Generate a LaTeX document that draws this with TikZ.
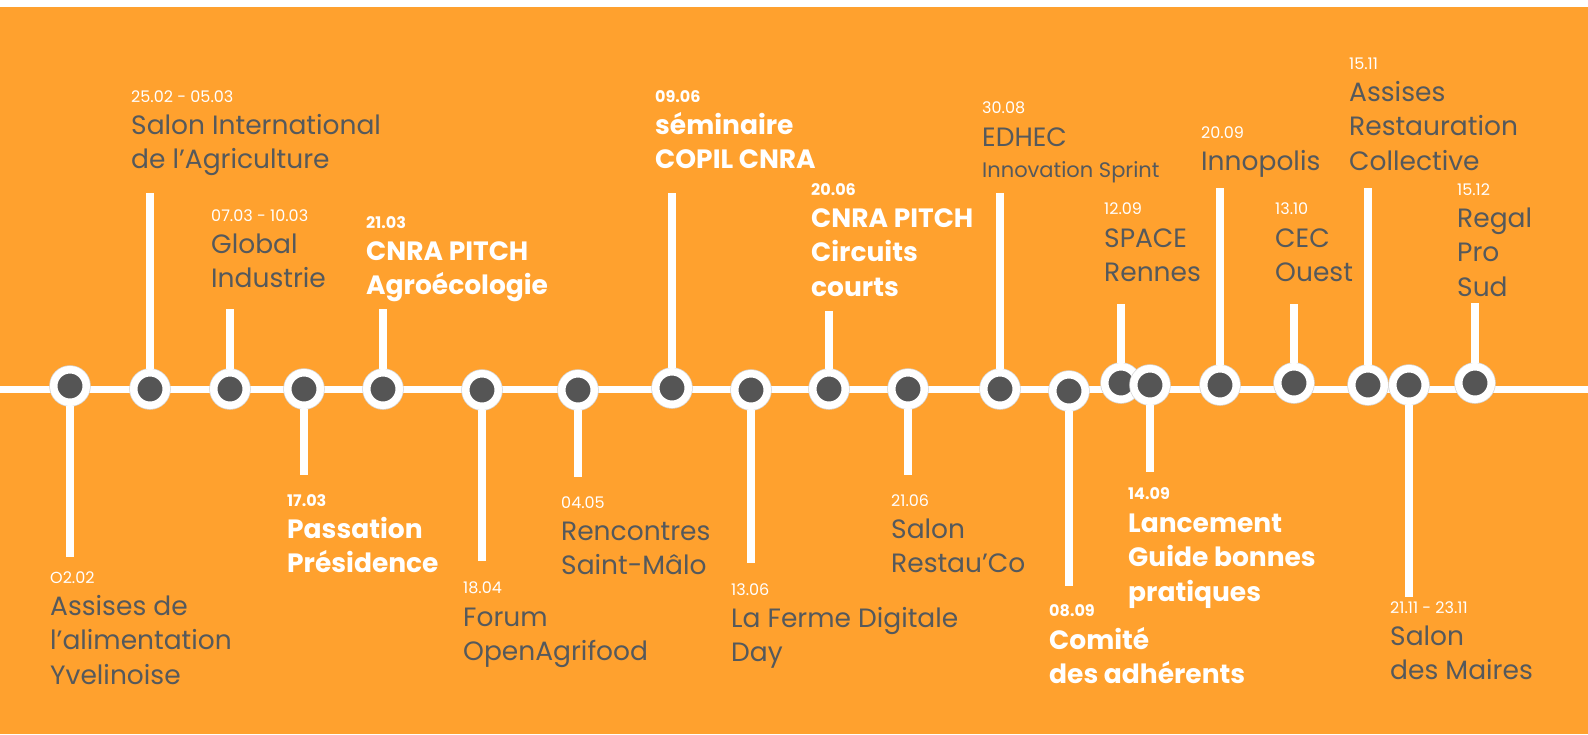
\documentclass[tikz,border=0pt]{standalone}
\usepackage{fontspec}
\setmainfont{Poppins}
\definecolor{bgorange}{HTML}{FFA12E}
\definecolor{dotgrey}{HTML}{555555}
\definecolor{txtgrey}{HTML}{55595C}
\definecolor{rimgrey}{HTML}{D6D6D6}
\newcommand{\evlines}[1]{\begin{tabular}[t]{@{}l@{}}#1\end{tabular}}
\tikzset{
  dot/.style={circle, fill=dotgrey, draw=white, line width=7.5pt, minimum size=32.5pt, inner sep=0pt, preaction={draw=rimgrey, line width=9pt}},
  stem/.style={draw=white, line width=7.5pt},
  datum/.style={anchor=base west, inner sep=0pt, text=white, font=\fontsize{16}{19}\selectfont},
  datumb/.style={datum, font=\fontsize{16}{19}\selectfont\bfseries},
  event/.style={anchor=base west, inner sep=0pt, text=txtgrey, font=\fontsize{26.5}{34.5}\selectfont},
  eventb/.style={event, text=white, font=\fontsize{26.5}{34.5}\selectfont\bfseries},
}
\begin{document}
\begin{tikzpicture}[x=1pt,y=-1pt]
            \useasboundingbox (0,0) rectangle (1588,734);
            \fill[white] (0,0) rectangle (1588,734);
            \fill[bgorange] (0,7) rectangle (1588,734);

            % timeline
            \coordinate (l0) at (0,389);
            \coordinate (l1) at (1588,389);
            \draw[white, line width=7pt] (l0) -- (l1);

            \node[dot] (c1) at (70,386) {};
            \node[dot] (c2) at (150,389) {};
            \node[dot] (c3) at (230,389) {};
            \node[dot] (c4) at (304,389) {};
            \node[dot] (c5) at (383,389) {};
            \node[dot] (c6) at (482,390) {};
            \node[dot] (c7) at (578,390) {};
            \node[dot] (c8) at (672,388) {};
            \node[dot] (c9) at (751,390) {};
            \node[dot] (c10) at (829,389) {};
            \node[dot] (c11) at (908,389) {};
            \node[dot] (c12) at (1000,389) {};
            \node[dot] (c13) at (1069,391) {};
            \node[dot] (c14) at (1121,383) {};
            \node[dot] (c15) at (1150,385) {};
            \node[dot] (c16) at (1220,385) {};
            \node[dot] (c17) at (1294,383) {};
            \node[dot] (c18) at (1368,385) {};
            \node[dot] (c19) at (1409,385) {};
            \node[dot] (c20) at (1475,383) {};

            % stem ends
            \coordinate (s1) at (70,557);
            \coordinate (s2) at (150,193);
            \coordinate (s3) at (230,309);
            \coordinate (s4) at (304,475);
            \coordinate (s5) at (383,309);
            \coordinate (s6) at (482,561);
            \coordinate (s7) at (578,477);
            \coordinate (s8) at (672,193);
            \coordinate (s9) at (751,563);
            \coordinate (s10) at (829,311);
            \coordinate (s11) at (908,475);
            \coordinate (s12) at (1000,193);
            \coordinate (s13) at (1069,586);
            \coordinate (s14) at (1121,304);
            \coordinate (s15) at (1150,472);
            \coordinate (s16) at (1220,188);
            \coordinate (s17) at (1294,304);
            \coordinate (s18) at (1368,188);
            \coordinate (s19) at (1409,597);
            \coordinate (s20) at (1475,303);

            \draw[stem] (c1) -- (s1);
            \draw[stem] (c2) -- (s2);
            \draw[stem] (c3) -- (s3);
            \draw[stem] (c4) -- (s4);
            \draw[stem] (c5) -- (s5);
            \draw[stem] (c6) -- (s6);
            \draw[stem] (c7) -- (s7);
            \draw[stem] (c8) -- (s8);
            \draw[stem] (c9) -- (s9);
            \draw[stem] (c10) -- (s10);
            \draw[stem] (c11) -- (s11);
            \draw[stem] (c12) -- (s12);
            \draw[stem] (c13) -- (s13);
            \draw[stem] (c14) -- (s14);
            \draw[stem] (c15) -- (s15);
            \draw[stem] (c16) -- (s16);
            \draw[stem] (c17) -- (s17);
            \draw[stem] (c18) -- (s18);
            \draw[stem] (c19) -- (s19);
            \draw[stem] (c20) -- (s20);

            % labels
            \node[datum] (d1) at (50,583) {O2.02}; % below
            \node[event] (e1) at (50,615) {\evlines{Assises de\\l’alimentation\\Yvelinoise}};
            \node[datum] (d2) at (131,102) {25.02 - 05.03}; % above
            \node[event] (e2) at (131,134) {\evlines{Salon International\\de l’Agriculture}};
            \node[datum] (d3) at (211,221) {07.03 - 10.03};
            \node[event] (e3) at (211,253) {\evlines{Global\\Industrie}};
            \node[datumb] (d4) at (366,228) {21.03};
            \node[eventb] (e4) at (366,260) {\evlines{CNRA PITCH\\Agroécologie}};
            \node[datumb] (d5) at (287,506) {17.03};
            \node[eventb] (e5) at (287,538) {\evlines{Passation\\Présidence}};
            \node[datum] (d6) at (463,593) {18.04};
            \node[event] (e6) at (463,626) {\evlines{Forum\\OpenAgrifood}};
            \node[datum] (d7) at (561,508) {04.05};
            \node[event] (e7) at (561,540) {\evlines{Rencontres\\Saint-Mâlo}};
            \node[datumb] (d8) at (655,102) {09.06};
            \node[eventb] (e8) at (655,134) {\evlines{séminaire\\COPIL CNRA}};
            \node[datumb] (d9) at (811,195) {20.06};
            \node[eventb] (e9) at (811,227) {\evlines{CNRA PITCH\\Circuits\\courts}};
            \node[datum] (d10) at (731,595) {13.06};
            \node[event] (e10) at (731,627) {\evlines{La Ferme Digitale\\Day}};
            \node[datum] (d11) at (891,506) {21.06};
            \node[event] (e11) at (891,538) {\evlines{Salon\\Restau’Co}};
            \node[datum] (d12) at (982,113) {30.08};
            \node[event] (e12) at (982,146) {EDHEC};
            \node[event, font=\fontsize{21}{28}\selectfont] (e12b) at (982,177) {Innovation Sprint};
            \node[datumb] (d13) at (1049,616) {08.09};
            \node[eventb] (e13) at (1049,649) {\evlines{Comité\\des adhérents}};
            \node[datum] (d14) at (1104,214) {12.09};
            \node[event] (e14) at (1104,247) {\evlines{SPACE\\Rennes}};
            \node[datumb] (d15) at (1128,499) {14.09};
            \node[eventb] (e15) at (1128,532) {\evlines{Lancement\\Guide bonnes\\pratiques}};
            \node[datum] (d16) at (1201,138) {20.09};
            \node[event] (e16) at (1201,170) {Innopolis};
            \node[datum] (d17) at (1275,214) {13.10};
            \node[event] (e17) at (1275,247) {\evlines{CEC\\Ouest}};
            \node[datum] (d18) at (1349,69) {15.11};
            \node[event] (e18) at (1349,101) {\evlines{Assises\\Restauration\\Collective}};
            \node[datum] (d19) at (1457,195) {15.12};
            \node[event] (e19) at (1457,227) {\evlines{Regal\\Pro\\Sud}};
            \node[datum] (d20) at (1390,613) {21.11 - 23.11};
            \node[event] (e20) at (1390,645) {\evlines{Salon\\des Maires}};
        \end{tikzpicture}
\end{document}
